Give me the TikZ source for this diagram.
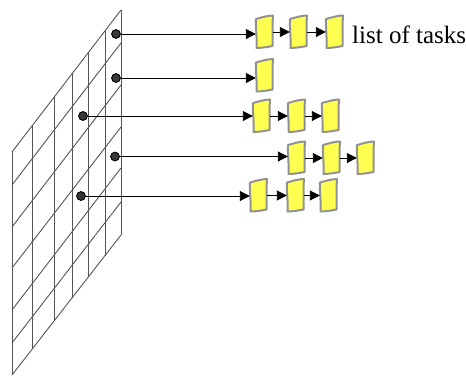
\documentclass[tikz,border=0pt]{standalone}
\usepackage{fontspec}
\setmainfont{Liberation Serif}
\usetikzlibrary{arrows.meta,calc}
\definecolor{gridc}{RGB}{85,85,85}
\definecolor{taskfill}{RGB}{255,255,80}
\definecolor{taskedge}{RGB}{145,145,145}
\definecolor{dotc}{RGB}{55,55,55}
\tikzset{
  gridline/.style={draw=gridc, line width=0.9pt},
  dotnode/.style={circle, fill=dotc, draw=black, line width=0.6pt, minimum size=9pt, inner sep=0pt},
  task/.style={minimum width=17pt, minimum height=32pt, inner sep=0pt},
  taskshape/.style={fill=taskfill, draw=taskedge, line width=2pt, line join=round},
  conn/.style={draw=black, line width=0.9pt, -{Triangle[length=10pt,width=10pt]}},
}
\begin{document}
\begin{tikzpicture}[x=1pt,y=-1pt]
\path[use as bounding box] (0,0) rectangle (466,376);
% grid
\foreach \xa in {12,32,54,72,88,105,121}{
  \draw[gridline] (\xa,{152-(\xa-12)*1.3028}) -- (\xa,{375-(\xa-12)*1.2844});
}
\foreach \yl/\yr in {152/10,185/43,227/85,268/127,310/168,343/202,375/235}{
  \draw[gridline] (12,\yl) -- (121,\yr);
}
% dots
\node[dotnode] (d1) at (116,34) {};
\node[dotnode] (d2) at (116,78) {};
\node[dotnode] (d3) at (83,116) {};
\node[dotnode] (d4) at (115,156.5) {};
\node[dotnode] (d5) at (81,196) {};
% tasks
\node[task] (r1a) at (264.5,32) {};
\node[task] (r1b) at (298.5,32) {};
\node[task] (r1c) at (334.5,32) {};
\node[task] (r2a) at (264.5,75.5) {};
\node[task] (r3a) at (261.5,116) {};
\node[task] (r3b) at (296.5,116) {};
\node[task] (r3c) at (330.5,116) {};
\node[task] (r4a) at (296.5,158) {};
\node[task] (r4b) at (331.5,158) {};
\node[task] (r4c) at (365.5,158) {};
\node[task] (r5a) at (258.5,195.5) {};
\node[task] (r5b) at (295.5,195.5) {};
\node[task] (r5c) at (328.5,195.5) {};
\foreach \n in {r1a,r1b,r1c,r2a,r3a,r3b,r3c,r4a,r4b,r4c,r5a,r5b,r5c}{
  \draw[taskshape, shift={(\n.center)}]
    (-8.5,-13) .. controls (-3,-14.5) and (3,-16.5) .. (8.5,-16.5)
    .. controls (7.6,-5) and (8.6,5) .. (8,14)
    .. controls (3,15) and (-3,16) .. (-8,16)
    .. controls (-7.4,5) and (-9,-5) .. cycle;
}
% connectors
\draw[conn] (d1) -- (d1 -| r1a.west);
\draw[conn] (d2) -- (d2 -| r2a.west);
\draw[conn] (d3) -- (d3 -| r3a.west);
\draw[conn] (d4) -- (d4 -| r4a.west);
\draw[conn] (d5) -- (d5 -| r5a.west);
\draw[conn] (r1a.east) -- (r1b.west);
\draw[conn] (r1b.east) -- (r1c.west);
\draw[conn] (r3a.east) -- (r3b.west);
\draw[conn] (r3b.east) -- (r3c.west);
\draw[conn] (r4a.east) -- (r4b.west);
\draw[conn] (r4b.east) -- (r4c.west);
\draw[conn] (r5a.east) -- (r5b.west);
\draw[conn] (r5b.east) -- (r5c.west);
% redraw dots on top of lines
\foreach \n in {d1,d2,d3,d4,d5}{
  \fill[dotc] (\n) circle (4.2pt);
  \draw[black, line width=0.6pt] (\n) circle (4.2pt);
}
% label
\node[anchor=base west, inner sep=0pt, font=\fontsize{25}{30}\selectfont] (lbl) at (352,43) {list of tasks};
\end{tikzpicture}
\end{document}
